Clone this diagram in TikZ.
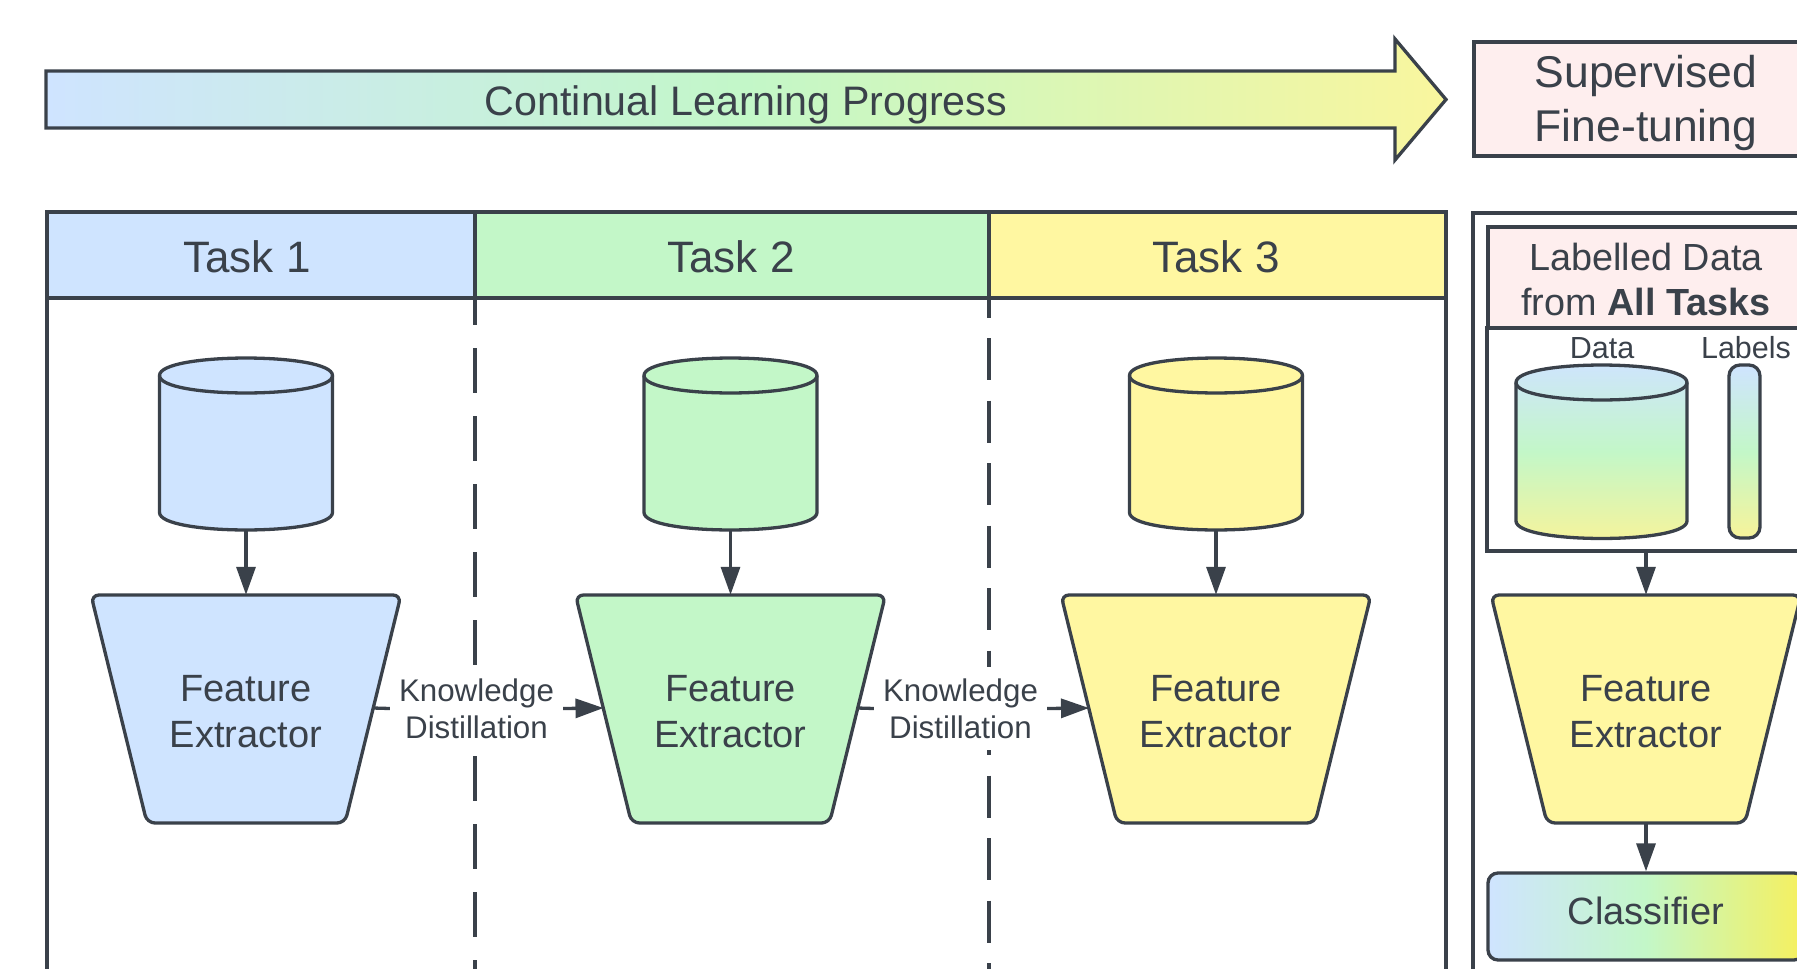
\documentclass[tikz,border=0pt]{standalone}
\usepackage{fontspec}
\setmainfont{Liberation Sans}
\usetikzlibrary{arrows.meta}

\definecolor{ink}{HTML}{3A414A}
\definecolor{tblue}{HTML}{CFE4FF}
\definecolor{tgreen}{HTML}{C3F7C8}
\definecolor{tyellow}{HTML}{FFF7A1}
\definecolor{tpink}{HTML}{FEEEEE}
\definecolor{gyellow}{HTML}{F9F69E}
\definecolor{byellow}{HTML}{F6F05E}
\definecolor{cyellow}{HTML}{F7F39A}

\tikzset{
  outline/.style={draw=ink, line width=3.3pt},
  flow/.style={draw=ink, line width=3.3pt, -{Triangle[length=28pt,width=19pt]}},
  lanehead/.style={outline, inner sep=0pt, minimum height=86pt},
  shapebox/.style={inner sep=0pt},
  titletext/.style={font=\fontsize{41.2}{50}\selectfont},
  tasktext/.style={font=\fontsize{44}{54}\selectfont},
  sfttext/.style={font=\fontsize{44.5}{54}\selectfont, align=center},
  fetext/.style={font=\fontsize{38}{46}\selectfont, align=center, inner sep=0pt},
  kdtext/.style={font=\fontsize{31.3}{37}\selectfont, align=center, inner sep=0pt},
  ldtext/.style={font=\fontsize{37.8}{45}\selectfont, align=center},
  smalltext/.style={font=\fontsize{30.5}{37}\selectfont, inner sep=0pt},
  gradv/.style={top color=tblue, bottom color=cyellow, middle color=tgreen},
  gradh/.style={left color=tblue, right color=#1, middle color=tgreen},
}

% database cylinder: name, centre x, x radius, top ellipse y, bottom ellipse y, fill
\newcommand\drum[6]{%
  \path[#6, outline] (#2-#3,#4) -- (#2-#3,#5)
    .. controls (#2-#3,#5+23.3) and (#2+#3,#5+23.3) .. (#2+#3,#5)
    -- (#2+#3,#4)
    .. controls (#2+#3,#4-23.3) and (#2-#3,#4-23.3) .. (#2-#3,#4) -- cycle;
  \draw[outline] (#2-#3,#4) .. controls (#2-#3,#4+23.3) and (#2+#3,#4+23.3) .. (#2+#3,#4);
  \node[shapebox, minimum width=2*#3, minimum height=#5-#4+35] (#1) at (#2,{(#4+#5)/2}) {};
}

% feature extractor funnel: name, centre x, fill
\newcommand\funnel[3]{%
  \path[outline, fill=#3, rounded corners=8pt] (#2,595) -- (#2+155,595) -- (#2+99,823)
    -- (#2-99,823) -- (#2-155,595) -- cycle;
  \node[shapebox, minimum width=310pt, minimum height=228pt] (#1) at (#2,709) {};
  \node[fetext] (#1-txt) at (#2,711.5) {Feature\\Extractor};
  \coordinate (#1-e) at (#2+127,708);
  \coordinate (#1-w) at (#2-127,708);
}

\begin{document}
\begin{tikzpicture}[x=1pt, y=-1pt, color=ink]
\useasboundingbox (0,0) rectangle (1797,969);
\clip (0,0) rectangle (1797,969);
\fill[white] (0,0) rectangle (1797,969);

% progress arrow
\path[outline, gradh=gyellow, line join=miter]
  (46,71) -- (1395,71) -- (1395,39) -- (1446,99.5) -- (1395,160) -- (1395,128) -- (46,128) -- cycle;
\node[titletext, anchor=base] (prog) at (746,115) {Continual Learning Progress};

% fine-tuning title
\node[outline, fill=tpink, minimum width=344pt, minimum height=114pt, inner sep=0pt, sfttext,
  text depth=2pt] (sft) at (1646,99) {Supervised\\Fine-tuning};

% task lanes
\node[lanehead, fill=tblue, minimum width=428pt] (lane1) at (261,255) {};
\node[lanehead, fill=tgreen, minimum width=514pt] (lane2) at (732,255) {};
\node[lanehead, fill=tyellow, minimum width=457pt] (lane3) at (1217.5,255) {};
\node[tasktext, anchor=base] (h1) at (247,272) {Task 1};
\node[tasktext, anchor=base] (h2) at (731,272) {Task 2};
\node[tasktext, anchor=base] (h3) at (1216,272) {Task 3};
\draw[outline] (47,1000) -- (47,212) -- (1446,212) -- (1446,1000);
\draw[outline, dash pattern=on 45pt off 23pt, dash phase=18pt] (475,298) -- (475,980);
\draw[outline, dash pattern=on 42pt off 20.5pt, dash phase=22.5pt] (989,298) -- (989,980);

% task data and extractors
\drum{db1}{246}{86.5}{375.5}{512.5}{fill=tblue}
\drum{db2}{730.5}{86.5}{375.5}{512.5}{fill=tgreen}
\drum{db3}{1216}{86.5}{375.5}{512.5}{fill=tyellow}
\funnel{fe1}{246}{tblue}
\funnel{fe2}{730.5}{tgreen}
\funnel{fe3}{1216}{tyellow}
\draw[flow] (db1.south) -- (fe1.north);
\draw[flow] (db2.south) -- (fe2.north);
\draw[flow] (db3.south) -- (fe3.north);

% knowledge distillation links
\node[fill=white, minimum width=173pt, minimum height=83pt, inner sep=0pt] (kd1) at (476.5,708.5) {};
\node[kdtext] (kd1-txt) at (476.5,708.7) {Knowledge\\Distillation};
\node[fill=white, minimum width=173pt, minimum height=83pt, inner sep=0pt] (kd2) at (960.5,708.5) {};
\node[kdtext] (kd2-txt) at (960.5,708.7) {Knowledge\\Distillation};
\draw[outline] (fe1-e) -- (kd1.west);
\draw[flow] (kd1.east) -- (fe2-w);
\draw[outline] (fe2-e) -- (kd2.west);
\draw[flow] (kd2.east) -- (fe3-w);

% supervised fine-tuning panel
\draw[outline] (1473,1000) -- (1473,213) -- (1819,213) -- (1819,1000);
\node[outline, minimum width=318pt, minimum height=223pt, inner sep=0pt] (pool) at (1646,439.5) {};
\node[outline, fill=tpink, minimum width=316pt, minimum height=101pt, inner sep=0pt, ldtext]
  (ldata) at (1646,277.5) {\rule{0pt}{32.2pt}Labelled Data\\from \textbf{All Tasks}};
\node[smalltext, anchor=base] (dlab) at (1602,358) {Data};
\node[smalltext, anchor=base] (llab) at (1746,358) {Labels};
\drum{db4}{1601.5}{85.5}{382.5}{521}{gradv}
\node[outline, gradv, rounded corners=11pt, minimum width=31pt, minimum height=173pt, inner sep=0pt]
  (lab) at (1744.5,451.5) {};
\funnel{fe4}{1646}{tyellow}
\node[outline, rounded corners=10pt, gradh=byellow,
  minimum width=316pt, minimum height=87pt, inner sep=0pt, text height=27.3pt, text depth=11.3pt,
  font=\fontsize{38}{45}\selectfont] (clf) at (1646,916.5) {Classifier};
\draw[flow] (pool.south) -- (fe4.north);
\draw[flow] (fe4.south) -- (clf.north);
\end{tikzpicture}
\end{document}
